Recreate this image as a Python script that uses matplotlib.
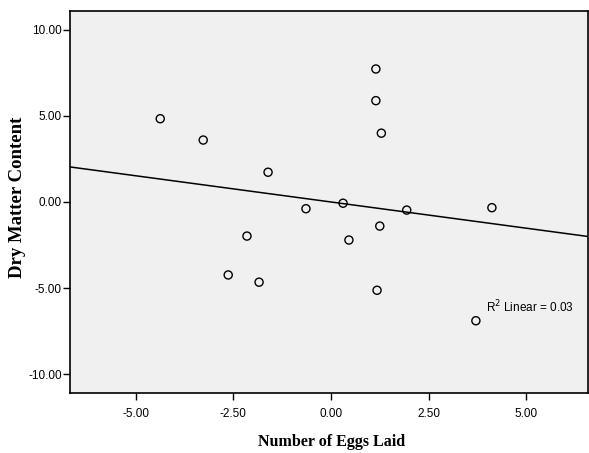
import numpy as np
import matplotlib
matplotlib.use("Agg")
import matplotlib.pyplot as plt

# residual values
eggs_laid = [-4.37, -3.27, -1.61, -0.64, 0.31, 1.15, 1.15, 1.29, 1.94, 4.12,
             1.25, -2.15, -2.63, -1.84, 0.46, 1.18, 3.71]
dry_matter = [4.84, 3.60, 1.73, -0.39, -0.07, 7.73, 5.89, 4.00, -0.47, -0.33,
              -1.40, -1.98, -4.24, -4.66, -2.21, -5.13, -6.90]

x_ticks = [-5.0, -2.5, 0.0, 2.5, 5.0]
y_ticks = [-10.0, -5.0, 0.0, 5.0, 10.0]

tick_font = "Liberation Sans"

fig = plt.figure(figsize=(5.89, 4.53), dpi=100)
ax = fig.add_axes([70 / 589, 1 - 393 / 453, 518 / 589, 382 / 453])
ax.set_facecolor("#f0f0f0")

ax.scatter(eggs_laid, dry_matter, s=34, facecolors="none", edgecolors="black",
           linewidths=1.0, zorder=3)

# linear fit line over the full x range
xlim = (-6.68, 6.58)
slope, icpt = np.polyfit(eggs_laid, dry_matter, 1)
xs = np.array(xlim)
ax.plot(xs, slope * xs + icpt, color="black", lw=1.1, zorder=2)

r2 = np.corrcoef(eggs_laid, dry_matter)[0, 1] ** 2
ax.text(3.98, -6.1, "R$^{2}$ Linear = %.2f" % r2, fontsize=8.5,
        family=tick_font, va="center", ha="left")

ax.set_xlim(*xlim)
ax.set_ylim(-11.1, 11.1)
ax.set_xticks(x_ticks)
ax.set_yticks(y_ticks)
ax.set_xticklabels(["%.2f" % v for v in x_ticks], family=tick_font, fontsize=8.5)
ax.set_yticklabels(["%.2f" % v for v in y_ticks], family=tick_font, fontsize=8.5)
ax.tick_params(direction="out", length=5, width=1)
ax.tick_params(axis="x", pad=6)
ax.tick_params(axis="y", pad=1)
for sp in ax.spines.values():
    sp.set_linewidth(1.2)

ax.set_xlabel("Number of Eggs Laid", family="Liberation Serif", fontweight="bold",
              fontsize=11.5)
ax.set_ylabel("Dry Matter Content", family="Liberation Serif", fontweight="bold",
              fontsize=13.5)
ax.xaxis.set_label_coords(0.504, -0.107)
ax.yaxis.set_label_coords(-0.085, 0.512)
ax.xaxis.label.set_va("top")

fig.savefig("out.png", dpi=100, facecolor="white")
